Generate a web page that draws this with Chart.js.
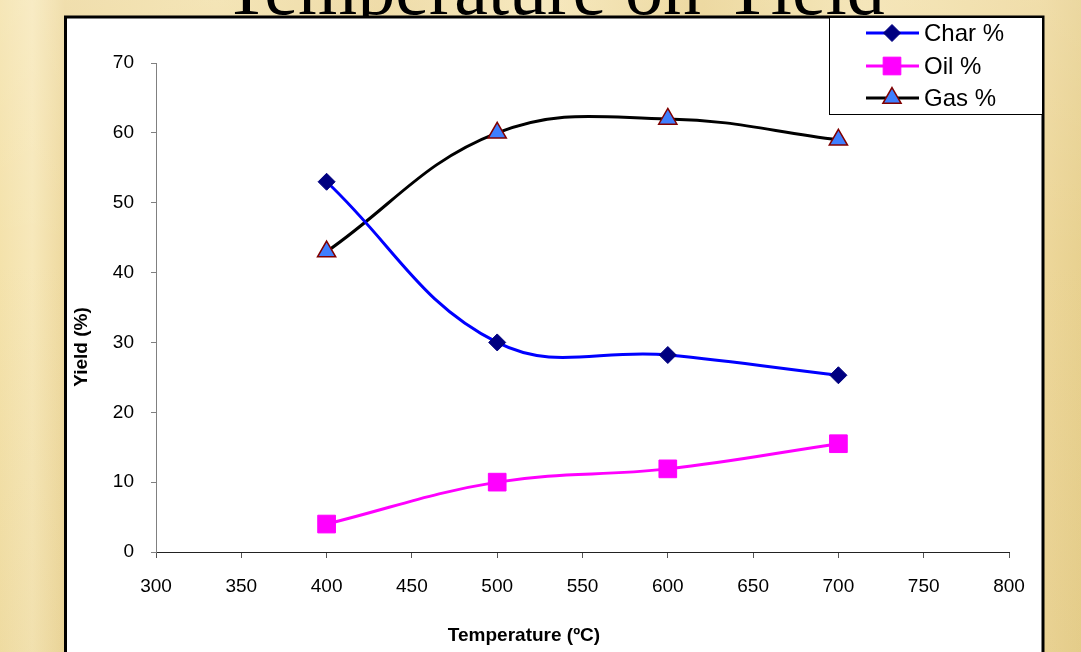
<!DOCTYPE html>
<html>
<head>
<meta charset="utf-8">
<script src="https://cdn.jsdelivr.net/npm/chart.js@4.4.0/dist/chart.umd.min.js"></script>
<style>
  html, body { margin: 0; padding: 0; }
  body {
    width: 1081px;
    height: 652px;
    overflow: hidden;
    background:
      linear-gradient(180deg, rgba(255,255,255,0.15) 0%, rgba(255,255,255,0) 40%, rgba(200,170,90,0.12) 100%),
      linear-gradient(90deg, #f4e2ab 0%, #f7e8ba 3%, #eed99f 6%, #f2e0aa 20%, #ecd69a 35%, #f5e5b4 50%, #ead392 65%, #f3e2ae 80%, #eed89c 96%, #e8d190 100%);
  }
  #wrap { position: relative; width: 1081px; height: 652px; }
</style>
</head>
<body>
<div id="wrap">
  <canvas id="yieldChart" width="1081" height="652"></canvas>
</div>
<script>
// Data
const temperatures = [400, 500, 600, 700];
const charYield = [53, 30, 28.2, 25.3];
const oilYield = [4, 10, 11.9, 15.5];
const gasYield = [43, 60, 62, 59];
const seriesNames = ["Char %", "Oil %", "Gas %"];

const chartTitle = "Temperature on Yield";
const xTitle = "Temperature (\u00BAC)";
const yTitle = "Yield (%)";

const sansFont = "'Liberation Sans', Arial, sans-serif";

function toPoints(values) {
  return temperatures.map((t, i) => ({ x: t, y: values[i] }));
}

// Background: slide title + white chart box
const frame = {
  id: "frame",
  beforeDraw(chart) {
    const ctx = chart.ctx;
    ctx.save();
    ctx.fillStyle = "#000";
    ctx.font = "76px 'Liberation Serif', 'Times New Roman', serif";
    ctx.textAlign = "center";
    ctx.textBaseline = "alphabetic";
    ctx.fillText(chartTitle, 554, 14);

    ctx.fillStyle = "#fff";
    ctx.fillRect(65.5, 17, 977.5, 700);
    ctx.strokeStyle = "#000";
    ctx.lineWidth = 3;
    ctx.strokeRect(65.5, 17, 977.5, 700);
    ctx.restore();
  },
  afterDraw(chart) {
    const ctx = chart.ctx;
    ctx.save();
    // axis titles
    ctx.fillStyle = "#000";
    ctx.font = "bold 19px " + sansFont;
    ctx.textAlign = "center";
    ctx.textBaseline = "middle";
    ctx.fillText(xTitle, 524, 636);
    ctx.translate(82, 347);
    ctx.rotate(-Math.PI / 2);
    ctx.fillText(yTitle, 0, 0);
    ctx.restore();

    // legend box
    ctx.save();
    ctx.fillStyle = "#fff";
    ctx.fillRect(829.5, 17, 213, 97.5);
    ctx.strokeStyle = "#000";
    ctx.lineWidth = 1;
    ctx.strokeRect(829.5, 17.5, 213, 97);
    const rows = [33, 66, 98];
    chart.data.datasets.forEach((ds, i) => {
      const y = rows[i];
      ctx.strokeStyle = ds.borderColor;
      ctx.lineWidth = ds.borderWidth;
      ctx.beginPath();
      ctx.moveTo(866, y);
      ctx.lineTo(919, y);
      ctx.stroke();
      ctx.fillStyle = ds.pointBackgroundColor;
      ctx.strokeStyle = ds.pointBorderColor;
      ctx.lineWidth = ds.pointBorderWidth;
      Chart.helpers.drawPoint(ctx, {
        pointStyle: ds.pointStyle,
        radius: ds.pointRadius,
        rotation: 0,
        borderWidth: ds.pointBorderWidth,
      }, 892, y);
      ctx.fillStyle = "#000";
      ctx.font = "24px " + sansFont;
      ctx.textAlign = "left";
      ctx.textBaseline = "middle";
      ctx.fillText(ds.label, 924, y + 1);
    });
    ctx.restore();
  },
};

const ctx = document.getElementById("yieldChart").getContext("2d");

new Chart(ctx, {
  type: "line",
  data: {
    datasets: [
      {
        label: seriesNames[0],
        data: toPoints(charYield),
        borderColor: "#0000ff",
        borderWidth: 3,
        pointStyle: "rectRot",
        pointRadius: 8.5,
        pointBackgroundColor: "#000080",
        pointBorderColor: "#000080",
        pointBorderWidth: 1,
        tension: 0.4,
      },
      {
        label: seriesNames[1],
        data: toPoints(oilYield),
        borderColor: "#ff00ff",
        borderWidth: 3,
        pointStyle: "rect",
        pointRadius: 12.5,
        pointBackgroundColor: "#ff00ff",
        pointBorderColor: "#ff00ff",
        pointBorderWidth: 1,
        tension: 0.4,
      },
      {
        label: seriesNames[2],
        data: toPoints(gasYield),
        borderColor: "#000000",
        borderWidth: 3,
        pointStyle: "triangle",
        pointRadius: 10.5,
        pointBackgroundColor: "#3f7fff",
        pointBorderColor: "#800000",
        pointBorderWidth: 1.5,
        tension: 0.4,
      },
    ],
  },
  options: {
    responsive: false,
    animation: false,
    devicePixelRatio: 1,
    events: [],
    layout: {
      padding: { left: 96, right: 72, top: 63, bottom: 40 },
    },
    scales: {
      x: {
        type: "linear",
        min: 300,
        max: 800,
        afterFit: (scale) => { scale.height = 60; },
        border: { color: "#222", width: 1 },
        grid: { drawOnChartArea: false, drawTicks: true, tickLength: 6, color: "#555" },
        ticks: {
          stepSize: 50,
          color: "#000",
          padding: 17,
          maxRotation: 0,
          font: { family: sansFont, size: 19 },
        },
      },
      y: {
        min: 0,
        max: 70,
        afterFit: (scale) => { scale.width = 60; },
        border: { color: "#808080", width: 1 },
        grid: { drawOnChartArea: false, drawTicks: true, tickLength: 5, color: "#808080" },
        ticks: {
          stepSize: 10,
          color: "#000",
          padding: 17,
          font: { family: sansFont, size: 19 },
        },
      },
    },
    plugins: {
      legend: { display: false },
      title: { display: false },
      tooltip: { enabled: false },
    },
  },
  plugins: [frame],
});
</script>
</body>
</html>
